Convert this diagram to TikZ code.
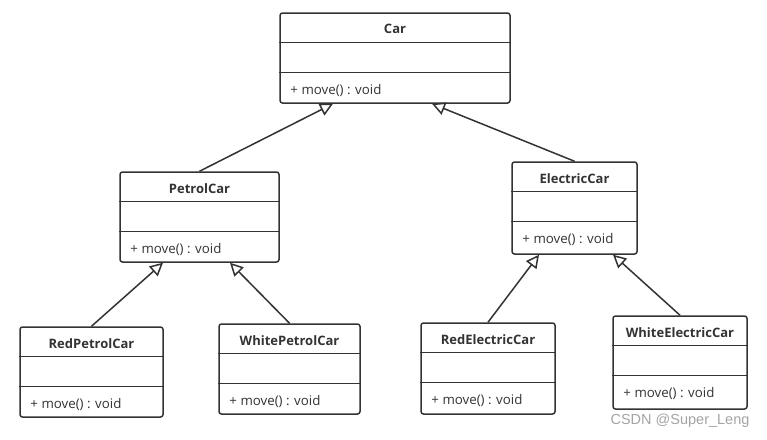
\documentclass[tikz,border=0pt]{standalone}
\usepackage{fontspec}
\setmainfont{Open Sans}
\newfontfamily\markfont{Liberation Sans}
\usepackage{tikz}
\usetikzlibrary{arrows.meta, positioning, calc}
\definecolor{umlgray}{RGB}{51,51,51}
\definecolor{markgray}{RGB}{165,165,165}

\tikzset{
  classbox/.style={draw=umlgray, line width=1.5pt, rounded corners=2.5pt, fill=white, minimum height=90pt, inner sep=0pt},
  band/.style={umlgray, line width=1.5pt},
  classname/.style={font=\bfseries\fontsize{13}{15}\selectfont, text=umlgray},
  member/.style={font=\fontsize{13.3}{15}\selectfont, text=umlgray, anchor=west, inner sep=0pt},
  inherit/.style={umlgray, line width=1.5pt, -{Triangle[open, length=13pt, width=13pt]}}
}

\begin{document}
\begin{tikzpicture}[x=1pt, y=-1pt]
    \fill[white] (0,0) rectangle (767,439);
    \useasboundingbox (0,0) rectangle (767,439);

    % Car
    \node[classbox, minimum width=230pt] (car) at (395,58) {};
    \draw[band] ($(car.north west)+(0,30)$) -- ($(car.north east)+(0,30)$);
    \draw[band] ($(car.north west)+(0,60)$) -- ($(car.north east)+(0,60)$);
    \node[classname] (cartitle) at ($(car.north)+(0,17)$) {Car};
    \node[member] (carmove) at ($(car.north west)+(11,78)$) {+ move() : void};

    % PetrolCar
    \node[classbox, minimum width=159pt] (petrol) at (199.5,217) {};
    \draw[band] ($(petrol.north west)+(0,30)$) -- ($(petrol.north east)+(0,30)$);
    \draw[band] ($(petrol.north west)+(0,60)$) -- ($(petrol.north east)+(0,60)$);
    \node[classname] (petroltitle) at ($(petrol.north)+(0,17)$) {PetrolCar};
    \node[member] (petrolmove) at ($(petrol.north west)+(11,78)$) {+ move() : void};

    % ElectricCar
    \node[classbox, minimum width=125pt, minimum height=92pt] (electric) at (574.5,208) {};
    \draw[band] ($(electric.north west)+(0,30)$) -- ($(electric.north east)+(0,30)$);
    \draw[band] ($(electric.north west)+(0,60)$) -- ($(electric.north east)+(0,60)$);
    \node[classname] (electrictitle) at ($(electric.north)+(0,17)$) {ElectricCar};
    \node[member] (electricmove) at ($(electric.north west)+(11,78)$) {+ move() : void};

    % RedPetrolCar
    \node[classbox, minimum width=143pt] (redpetrol) at (91.5,372) {};
    \draw[band] ($(redpetrol.north west)+(0,30)$) -- ($(redpetrol.north east)+(0,30)$);
    \draw[band] ($(redpetrol.north west)+(0,60)$) -- ($(redpetrol.north east)+(0,60)$);
    \node[classname] (redpetroltitle) at ($(redpetrol.north)+(0,17)$) {RedPetrolCar};
    \node[member] (redpetrolmove) at ($(redpetrol.north west)+(11,78)$) {+ move() : void};

    % WhitePetrolCar
    \node[classbox, minimum width=141pt] (whitepetrol) at (289.5,369) {};
    \draw[band] ($(whitepetrol.north west)+(0,30)$) -- ($(whitepetrol.north east)+(0,30)$);
    \draw[band] ($(whitepetrol.north west)+(0,60)$) -- ($(whitepetrol.north east)+(0,60)$);
    \node[classname] (whitepetroltitle) at ($(whitepetrol.north)+(0,17)$) {WhitePetrolCar};
    \node[member] (whitepetrolmove) at ($(whitepetrol.north west)+(11,78)$) {+ move() : void};

    % RedElectricCar
    \node[classbox, minimum width=134pt, minimum height=91pt] (redelectric) at (488,368.5) {};
    \draw[band] ($(redelectric.north west)+(0,30)$) -- ($(redelectric.north east)+(0,30)$);
    \draw[band] ($(redelectric.north west)+(0,60)$) -- ($(redelectric.north east)+(0,60)$);
    \node[classname] (redelectrictitle) at ($(redelectric.north)+(0,17)$) {RedElectricCar};
    \node[member] (redelectricmove) at ($(redelectric.north west)+(11,78)$) {+ move() : void};

    % WhiteElectricCar
    \node[classbox, minimum width=134pt, minimum height=93pt] (whiteelectric) at (680,362.5) {};
    \draw[band] ($(whiteelectric.north west)+(0,30)$) -- ($(whiteelectric.north east)+(0,30)$);
    \draw[band] ($(whiteelectric.north west)+(0,60)$) -- ($(whiteelectric.north east)+(0,60)$);
    \node[classname] (whiteelectrictitle) at ($(whiteelectric.north)+(0,17)$) {WhiteElectricCar};
    \node[member] (whiteelectricmove) at ($(whiteelectric.north west)+(11,78)$) {+ move() : void};

    % Inheritance
    \draw[inherit] (petrol.north) -- ($(car.south)+(-62,0)$);
    \draw[inherit] (electric.north) -- ($(car.south)+(37,0)$);
    \draw[inherit] (redpetrol.north) -- ($(petrol.south)+(-36.5,0)$);
    \draw[inherit] (whitepetrol.north) -- ($(petrol.south)+(30.5,0)$);
    \draw[inherit] (redelectric.north) -- ($(electric.south)+(-35.5,0)$);
    \draw[inherit] (whiteelectric.north) -- ($(electric.south)+(38.5,0)$);

    % Watermark
    \node[font=\markfont\fontsize{14.5}{16}\selectfont, text=markgray] (mark) at (680,421) {CSDN @Super\_Leng};
\end{tikzpicture}
\end{document}
